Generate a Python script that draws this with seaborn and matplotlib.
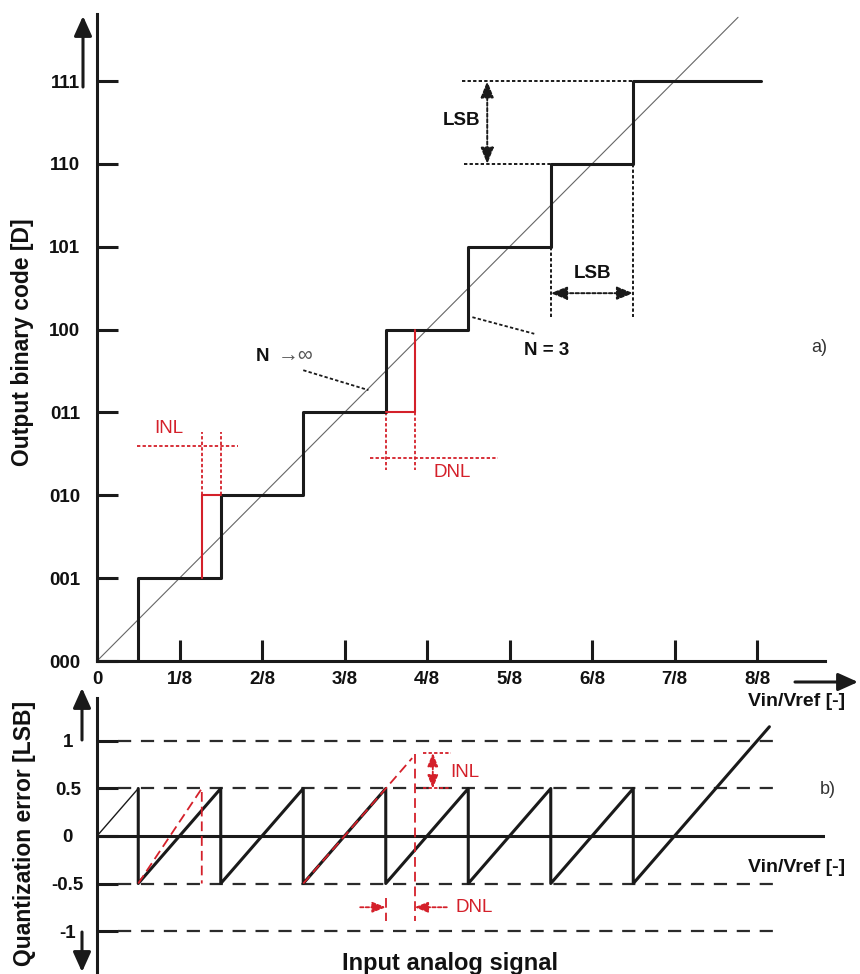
import numpy as np
import seaborn as sns
import matplotlib.pyplot as plt

# ADC transfer curve (3 bit)
code_labels = ["000", "001", "010", "011", "100", "101", "110", "111"]
x_labels = ["0", "1/8", "2/8", "3/8", "4/8", "5/8", "6/8", "7/8", "8/8"]
step_x = [0, 0.5, 1.5, 2.5, 3.5, 4.5, 5.5, 6.5, 8.05]
step_code = [0, 1, 2, 3, 4, 5, 6, 7, 7]
ideal_x = [0, 7.77]
ideal_y = [0, 7.77]

# non-ideal transitions (INL / DNL example)
inl_step_x = [1.27, 1.27, 1.5]
inl_step_y = [1, 2, 2]
dnl_step_x = [3.5, 3.85, 3.85]
dnl_step_y = [3, 3, 4]

# quantization error
err_ticks = [-1, -0.5, 0, 0.5, 1]
err_labels = ["-1", "-0.5", "0", "0.5", "1"]
err_levels = [-1, -0.5, 0.5, 1]
saw_start_x = [0, 0.5]
saw_start_y = [0, 0.5]
saw_x = [0.5, 0.5, 1.5, 1.5, 2.5, 2.5, 3.5, 3.5, 4.5, 4.5, 5.5, 5.5, 6.5, 6.5, 8.15]
saw_y = [0.5, -0.5, 0.5, -0.5, 0.5, -0.5, 0.5, -0.5, 0.5, -0.5, 0.5, -0.5, 0.5, -0.5, 1.15]
inl_err_x = [0.5, 1.27, 1.27]
inl_err_y = [-0.5, 0.5, -0.5]
dnl_err_x = [2.5, 3.82]
dnl_err_y = [-0.5, 0.82]
inl_top = 0.874
dnl_arrow_y = -0.75

sns.set_theme(style="white")
plt.rcParams["font.family"] = ["Liberation Sans", "DejaVu Sans"]
plt.rcParams["lines.scale_dashes"] = False
plt.rcParams["text.color"] = "#111111"
plt.rcParams["xtick.labelcolor"] = "#111111"
plt.rcParams["ytick.labelcolor"] = "#111111"

RED = "#d4202a"
W, H = 860, 974
LW = 2.2
DOT = (0, (2.4, 1.6))
RDASH = (0, (7, 3.6))


def fx(px):
    return px / W


def fy(py):
    return 1 - py / H


fig = plt.figure(figsize=(8.6, 9.74), dpi=100)
ax1 = fig.add_axes([fx(97), fy(661), fx(825) - fx(97), fy(14) - fy(661)])
ax2 = fig.add_axes([fx(97), fy(974), fx(825) - fx(97), fy(698) - fy(974)])


def arrow(ax, start, end, style="-|>", color="k", lw=LW, ls="-", head=(0.6, 0.27), scale=20, coords="data"):
    ax.annotate("", xy=end, xytext=start, xycoords=coords, textcoords=coords,
                annotation_clip=False,
                arrowprops=dict(arrowstyle=f"{style},head_length={head[0]},head_width={head[1]}",
                                color=color, lw=lw, linestyle=ls, shrinkA=0, shrinkB=0,
                                mutation_scale=scale))


def line(ax, x, y, **kw):
    sns.lineplot(x=x, y=y, ax=ax, estimator=None, sort=False, **kw)


# ---- a) transfer curve
line(ax1, ideal_x, ideal_y, color="#666666", lw=0.8)
line(ax1, step_x, step_code, color="k", lw=LW, drawstyle="steps-post", zorder=4)
line(ax1, inl_step_x, inl_step_y, color=RED, lw=1.5, zorder=5)
line(ax1, dnl_step_x, dnl_step_y, color=RED, lw=1.5, zorder=5)

# INL markers
for xv in [inl_step_x[0], inl_step_x[-1]]:
    line(ax1, [xv, xv], [2, 2.76], color=RED, lw=1.3, linestyle=DOT)
line(ax1, [0.48, 1.71], [2.59, 2.59], color=RED, lw=1.3, linestyle=DOT)
ax1.text(0.87, 2.81, "INL", color=RED, fontsize=13.5, ha="center", va="center")

# DNL markers
for xv in [dnl_step_x[0], dnl_step_x[-1]]:
    line(ax1, [xv, xv], [3, 2.3], color=RED, lw=1.3, linestyle=DOT)
line(ax1, [3.31, 4.86], [2.45, 2.45], color=RED, lw=1.3, linestyle=DOT)
ax1.text(4.3, 2.27, "DNL", color=RED, fontsize=13.5, ha="center", va="center")

# LSB markers
line(ax1, [4.42, step_x[7]], [7, 7], color="k", lw=1.4, linestyle=DOT)
line(ax1, [4.45, step_x[6]], [6, 6], color="k", lw=1.4, linestyle=DOT)
arrow(ax1, (4.73, 6), (4.73, 7), style="<|-|>", lw=1.4, ls=DOT, head=(0.55, 0.22), scale=18)
ax1.text(4.42, 6.53, "LSB", fontsize=13.5, fontweight="bold", ha="center", va="center")
line(ax1, [step_x[6], step_x[6]], [5, 4.15], color="k", lw=1.4, linestyle=DOT)
line(ax1, [step_x[7], step_x[7]], [6, 4.15], color="k", lw=1.4, linestyle=DOT)
arrow(ax1, (5.5, 4.44), (6.5, 4.44), style="<|-|>", lw=1.4, ls=DOT, head=(0.55, 0.22), scale=18)
ax1.text(6.0, 4.68, "LSB", fontsize=13.5, fontweight="bold", ha="center", va="center")

# leaders
line(ax1, [2.5, 3.29], [3.51, 3.27], color="k", lw=1.3, linestyle=DOT)
ax1.text(2.01, 3.67, "N", fontsize=13.5, fontweight="bold", ha="center", va="center")
ax1.text(2.41, 3.69, "→∞", fontsize=15, color="#555555", ha="center", va="center")
line(ax1, [4.55, 5.3], [4.15, 3.95], color="k", lw=1.3, linestyle=DOT)
ax1.text(5.45, 3.75, "N = 3", fontsize=13.5, fontweight="bold", ha="center", va="center")
ax1.text(8.76, 3.78, "a)", fontsize=13, color="#333333", ha="center", va="center")

ax1.set_xlim(0, 8.824)
ax1.set_ylim(0, 7.81)
ax1.set_xticks(range(9))
ax1.set_xticklabels(x_labels, fontweight="bold", fontsize=13.5)
ax1.set_yticks(range(8))
ax1.set_yticklabels(code_labels, fontweight="bold", fontsize=13.5)
ax1.tick_params(axis="both", direction="in", length=15, width=LW, color="k",
                bottom=True, left=True)
ax1.tick_params(axis="x", pad=7)
ax1.tick_params(axis="y", pad=12)
for side in ["top", "right"]:
    ax1.spines[side].set_visible(False)
for side in ["left", "bottom"]:
    ax1.spines[side].set_color("k")
    ax1.spines[side].set_linewidth(LW)
ax1.set_facecolor("none")

# ---- b) quantization error
ax2.hlines(err_levels, 0.25, 8.3, colors="#2b2b2b", lw=1.6, linestyles=[(0, (9.5, 7))])
ax2.hlines(0, 0, 8.82, colors="k", lw=LW)
line(ax2, saw_start_x, saw_start_y, color="k", lw=1.0)
line(ax2, saw_x, saw_y, color="k", lw=LW, zorder=4)
line(ax2, inl_err_x, inl_err_y, color=RED, lw=1.3, linestyle=RDASH, zorder=5)
line(ax2, dnl_err_x, dnl_err_y, color=RED, lw=1.3, linestyle=RDASH, zorder=5)
line(ax2, [3.85, 3.85], [0.86, -0.89], color=RED, lw=1.3, linestyle=RDASH, zorder=5)
line(ax2, [3.5, 3.5], [-0.65, -0.89], color=RED, lw=1.3, linestyle=RDASH, zorder=5)

# INL / DNL markers
line(ax2, [3.95, 4.29], [inl_top, inl_top], color=RED, lw=1.3, linestyle=DOT)
line(ax2, [3.95, 4.29], [0.5, 0.5], color=RED, lw=1.3, linestyle=DOT)
arrow(ax2, (4.07, 0.5), (4.07, inl_top), style="<|-|>", color=RED, lw=1.3, ls=DOT,
      head=(0.5, 0.2), scale=16)
ax2.text(4.46, 0.67, "INL", color=RED, fontsize=13.5, ha="center", va="center")
arrow(ax2, (3.19, dnl_arrow_y), (3.5, dnl_arrow_y), color=RED, lw=1.3, ls=DOT,
      head=(0.5, 0.2), scale=16)
arrow(ax2, (4.24, dnl_arrow_y), (3.85, dnl_arrow_y), color=RED, lw=1.3, ls=DOT,
      head=(0.5, 0.2), scale=16)
ax2.text(4.57, dnl_arrow_y, "DNL", color=RED, fontsize=13.5, ha="center", va="center")

ax2.set_xlim(0, 8.824)
ax2.set_ylim(-1.4526, 1.4526)
ax2.set_xticks([])
ax2.set_yticks(err_ticks)
ax2.set_yticklabels(err_labels, fontweight="bold", fontsize=13.5, ha="center")
ax2.tick_params(axis="y", direction="in", length=15, width=LW, color="k", left=True, pad=21)
for side in ["top", "right", "bottom"]:
    ax2.spines[side].set_visible(False)
ax2.spines["left"].set_color("k")
ax2.spines["left"].set_linewidth(LW)
ax2.set_facecolor("none")

# ---- axis arrows and labels (figure decoration)
FF = "figure fraction"
arrow(ax1, (fx(83), fy(87)), (fx(83), fy(16)), coords=FF)
arrow(ax2, (fx(82), fy(740)), (fx(82), fy(688)), coords=FF)
arrow(ax2, (fx(82), fy(932)), (fx(82), fy(972)), coords=FF)
arrow(ax1, (fx(795), fy(682)), (fx(858), fy(682)), coords=FF)

fig.text(fx(23), fy(342), "Output binary code [D]", rotation=90, fontsize=16.5,
         fontweight="bold", ha="center", va="center")
fig.text(fx(25), fy(833), "Quantization error [LSB]", rotation=90, fontsize=16.5,
         fontweight="bold", ha="center", va="center")
fig.text(fx(797), fy(702), "Vin/Vref [-]", fontsize=14, fontweight="bold", ha="center", va="center")
fig.text(fx(797), fy(868), "Vin/Vref [-]", fontsize=14, fontweight="bold", ha="center", va="center")
fig.text(fx(828), fy(790), "b)", fontsize=13, color="#333333", ha="center", va="center")
fig.text(fx(450), fy(970), "Input analog signal", fontsize=17, fontweight="bold",
         ha="center", va="baseline")

fig.savefig("out.png", dpi=100)
